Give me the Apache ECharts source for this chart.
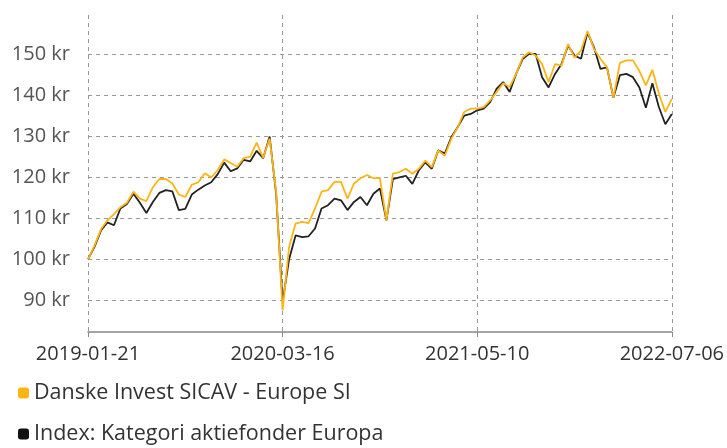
<!DOCTYPE html>
<head>
    <meta charset="utf-8">
    <title>ECharts</title>
</head>
<body style="margin:0">
<div id="main" style="width:727px;height:448px"></div>
<script src="https://cdn.jsdelivr.net/npm/echarts@6/dist/echarts.min.js"></script>
<script type="text/javascript">
    // data, one point every two weeks
    var fundName = 'Danske Invest SICAV - Europe SI';
    var indexName = 'Index: Kategori aktiefonder Europa';

    var fundValues = [
        100, 103.3, 107.3, 109.5, 111, 112.7, 113.8, 116.5, 114.8, 114.2,
        117.6, 119.6, 119.6, 118.5, 115.8, 115.2, 118.2, 118.8, 121, 120,
        121.8, 124.4, 123.5, 122.6, 124.7, 125.1, 128.5, 124.8, 129.5, 116.5,
        87.5, 103, 108.7, 109.1, 108.8, 112.4, 116.5, 116.9, 118.9, 118.9,
        114.8, 118.5, 119.8, 120.6, 119.8, 119.8, 109.5, 120.9, 121.3, 122.1,
        120.9, 122.1, 124.1, 122.5, 126.6, 125.3, 129.4, 132.3, 136, 136.8,
        136.8, 137.2, 138.8, 140.9, 143, 142.1, 145.3, 149.3, 150.6, 149.8,
        147.7, 143.3, 147.7, 147.3, 152.6, 149.3, 151, 155.8, 151.4, 149,
        146.9, 139.5, 148, 148.6, 148.6, 146, 142.5, 146.3, 140.5, 136,
        139.2
    ];
    var indexValues = [
        100, 103, 107, 109, 108.3, 112.4, 113.5, 116, 113.8, 111.3,
        114, 116.2, 116.9, 116.6, 112, 112.3, 115.8, 117, 118, 118.8,
        120.8, 123.6, 121.5, 122.2, 124.3, 123.9, 126.5, 124.7, 130, 116,
        89.5, 100, 105.8, 105.4, 105.6, 107.5, 112.4, 113.2, 114.8, 114.4,
        112, 114, 115.2, 113.2, 116, 117.3, 109.5, 119.6, 120, 120.4,
        118.4, 121.7, 123.7, 122.1, 126.6, 125.8, 129.8, 132.3, 135.1, 135.5,
        136.4, 136.8, 138.4, 141.7, 143.3, 140.9, 145.3, 148.9, 150.2, 150.2,
        144.5, 142, 145.3, 147.7, 152.2, 149.8, 149, 155.4, 151.8, 146.5,
        146.9, 139.5, 145, 145.3, 144.5, 142, 137, 143, 137.2, 133,
        135.5
    ];

    // dates every 14 days from 2019-01-21, last point is 2022-07-06
    var dates = [];
    for (var i = 0; i < fundValues.length; i++) {
        dates.push(new Date(Date.UTC(2019, 0, 21) + i * 14 * 86400000).toISOString().slice(0, 10));
    }
    dates[dates.length - 1] = '2022-07-06';

    var yMin = 82.2;
    var yMax = 159.7;

    var legendText = {fontSize: 21.5, color: '#333', fontFamily: 'Open Sans'};

    var myChart = echarts.init(document.getElementById('main'));
    myChart.setOption({
        animation: false,
        textStyle: {fontFamily: 'Open Sans'},
        grid: {left: 88, right: 55, top: 15, bottom: 116, containLabel: false},
        legend: [{
            data: [fundName],
            left: 13,
            top: 377,
            itemWidth: 11,
            itemHeight: 11,
            itemGap: 6,
            icon: 'roundRect',
            textStyle: legendText
        }, {
            data: [indexName],
            left: 13,
            top: 418,
            itemWidth: 11,
            itemHeight: 11,
            icon: 'roundRect',
            textStyle: legendText
        }],
        xAxis: {
            type: 'category',
            data: dates,
            boundaryGap: false,
            axisLine: {lineStyle: {color: '#888', width: 1.5}},
            axisTick: {show: true, interval: 29, length: 5, lineStyle: {color: '#888'}},
            axisLabel: {interval: 29, margin: 12, fontSize: 20, color: '#333'},
            splitLine: {show: true, interval: 29, lineStyle: {color: '#999', type: [4, 4], width: 1}}
        },
        yAxis: {
            type: 'value',
            min: yMin,
            max: yMax,
            splitNumber: 8,
            axisLine: {show: false},
            axisTick: {show: false},
            axisLabel: {
                margin: 18,
                fontSize: 20,
                color: '#555',
                showMinLabel: false,
                showMaxLabel: false,
                formatter: function (v) {
                    return Math.abs(v % 10) < 0.001 ? v + ' kr' : '';
                }
            },
            splitLine: {show: true, showMinLine: false, showMaxLine: false, lineStyle: {color: '#999', type: [4, 4], width: 1}}
        },
        series: [{
            name: indexName,
            type: 'line',
            data: indexValues,
            symbol: 'none',
            itemStyle: {color: '#111'},
            lineStyle: {color: '#222', width: 1.8}
        }, {
            name: fundName,
            type: 'line',
            data: fundValues,
            symbol: 'none',
            itemStyle: {color: '#FDB515'},
            lineStyle: {color: '#FDB515', width: 1.8}
        }]
    });
</script>
</body>
